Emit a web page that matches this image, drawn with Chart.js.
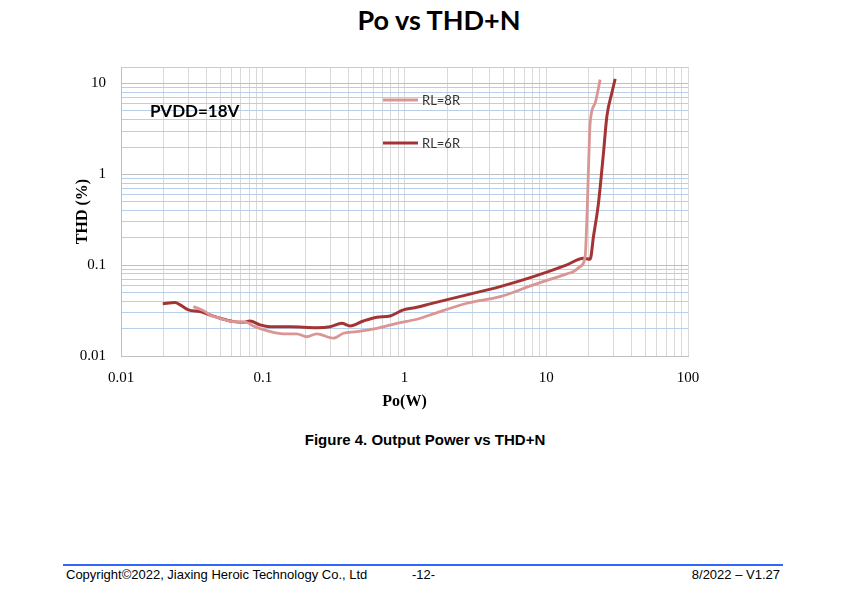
<!DOCTYPE html>
<html>
<head>
<meta charset="utf-8">
<script src="https://cdn.jsdelivr.net/npm/chart.js@4.4.1/dist/chart.umd.min.js"></script>
<style>
    body { margin: 0; background: #fff; width: 850px; height: 589px; position: relative; overflow: hidden; }
    #chart-box { position: absolute; left: 0; top: 0; width: 850px; height: 420px; }
    .txt { position: absolute; white-space: nowrap; color: #000; }
    #chart-title { left: 439px; top: 4px; transform: translateX(-50%); font: bold 27px Lato, sans-serif; line-height: 32px; }
    #caption { left: 425px; top: 431px; transform: translateX(-50%); font: bold 15px "Liberation Sans", Arial, sans-serif; line-height: 18px; }
    #footer-line { position: absolute; left: 63px; top: 564px; width: 720px; height: 2px; background: #3366ff; }
    .foot { top: 567px; font: 13px "Liberation Sans", Arial, sans-serif; line-height: 16px; }
</style>
</head>
<body>
<div id="chart-title" class="txt">Po vs THD+N</div>
<div id="chart-box"><canvas id="thd-chart" width="850" height="420"></canvas></div>
<div id="caption" class="txt">Figure 4. Output Power vs THD+N</div>
<div id="footer-line"></div>
<div class="txt foot" style="left:66px;">Copyright©2022, Jiaxing Heroic Technology Co., Ltd</div>
<div class="txt foot" style="left:412px;">-12-</div>
<div class="txt foot" style="right:70px;">8/2022 – V1.27</div>

<script>
const xTickLabels = ['0.01', '0.1', '1', '10', '100'];
const yTickLabels = ['0.01', '0.1', '1', '10'];
const yTop = 15.2;

// RL=8R
const po8R = [0.0324, 0.0381, 0.0425, 0.0500, 0.0620, 0.0771, 0.0858, 0.1067, 0.1397, 0.1737,
    0.2044, 0.2405, 0.3150, 0.3705, 0.4607, 0.6374, 0.8825, 1.221, 1.516, 2.753,
    4.728, 8.122, 13.98, 15.56, 17.35, 18.81, 19.34, 19.85, 20.40, 22.14, 24.01];
const thd8R = [0.0350, 0.0316, 0.0283, 0.0260, 0.0239, 0.0235, 0.0214, 0.0190, 0.0175, 0.0175,
    0.0163, 0.0175, 0.0157, 0.0178, 0.0185, 0.0202, 0.0229, 0.0254, 0.0283, 0.0381,
    0.0450, 0.0606, 0.0802, 0.0850, 0.0965, 0.1244, 0.3158, 1.124, 3.678, 6.111, 11.04];

// RL=6R
const po6R = [0.0197, 0.0241, 0.0261, 0.0299, 0.0361, 0.0425, 0.0500, 0.0620, 0.0730, 0.0813,
    0.0957, 0.1126, 0.1559, 0.2405, 0.2985, 0.361, 0.4131, 0.5129, 0.6374, 0.7913,
    0.982, 1.221, 1.516, 2.753, 4.728, 8.122, 13.98, 18.30, 20.40, 21.54,
    23.36, 25.33, 26.77, 29.03, 30.63];
const thd6R = [0.0375, 0.0387, 0.0365, 0.0322, 0.0308, 0.0283, 0.0260, 0.0239, 0.0235, 0.0243,
    0.0220, 0.0210, 0.0210, 0.0205, 0.0210, 0.0229, 0.0214, 0.0243, 0.0267, 0.0276,
    0.0322, 0.0344, 0.0375, 0.0471, 0.0581, 0.0748, 0.1008, 0.1194, 0.1165, 0.2067,
    0.4827, 1.717, 4.348, 7.878, 11.24];

const color8R = '#d99694';
const color6R = '#a33434';

function toPoints(xs, ys) {
    return xs.map((x, i) => ({ x: x, y: ys[i] }));
}

// 1..9 per decade between the labelled powers of ten
function logGrid(labels) {
    const majors = labels.map(Number);
    const vals = [];
    for (let i = 0; i < majors.length - 1; i++) {
        for (let k = 1; k < 10; k++) vals.push(+(majors[i] * k).toPrecision(3));
    }
    vals.push(majors[majors.length - 1]);
    return vals;
}

function majorLabel(labels, value) {
    const hit = labels.find(l => Math.abs(Number(l) - value) < 1e-9);
    return hit || '';
}

const xGrid = logGrid(xTickLabels);
const yGrid = logGrid(yTickLabels).concat([yTop]);

const notesPlugin = {
    id: 'notes',
    afterDatasetsDraw(chart) {
        const ctx = chart.ctx;
        const a = chart.chartArea;
        ctx.save();
        ctx.font = 'bold 17px Lato, sans-serif';
        ctx.fillStyle = '#000';
        ctx.textBaseline = 'middle';
        ctx.fillText('PVDD=18V', a.left + 29, a.top + 45);

        const items = [
            { label: 'RL=8R', color: color8R, width: 3, dy: 33 },
            { label: 'RL=6R', color: color6R, width: 3, dy: 76 }
        ];
        ctx.font = '13px Lato, sans-serif';
        items.forEach(it => {
            const y = a.top + it.dy;
            ctx.strokeStyle = it.color;
            ctx.lineWidth = it.width;
            ctx.beginPath();
            ctx.moveTo(a.left + 262, y);
            ctx.lineTo(a.left + 297, y);
            ctx.stroke();
            ctx.fillStyle = '#333';
            ctx.fillText(it.label, a.left + 301, y + 1);
        });
        ctx.restore();
    }
};

const serif = 'Liberation Serif, Times New Roman, serif';

new Chart(document.getElementById('thd-chart'), {
    type: 'line',
    data: {
        datasets: [
            {
                label: 'RL=8R',
                data: toPoints(po8R, thd8R),
                borderColor: color8R,
                borderWidth: 2.8,
                pointRadius: 0,
                cubicInterpolationMode: 'monotone'
            },
            {
                label: 'RL=6R',
                data: toPoints(po6R, thd6R),
                borderColor: color6R,
                borderWidth: 3,
                pointRadius: 0,
                cubicInterpolationMode: 'monotone'
            }
        ]
    },
    options: {
        responsive: false,
        animation: false,
        layout: { padding: { left: 73, top: 67, right: 162, bottom: 9 } },
        plugins: {
            legend: { display: false },
            tooltip: { enabled: false }
        },
        scales: {
            x: {
                type: 'logarithmic',
                min: 0.01,
                max: 100,
                afterBuildTicks: axis => { axis.ticks = xGrid.map(v => ({ value: v })); },
                afterFit: axis => { axis.height = 55; },
                ticks: {
                    autoSkip: false,
                    maxRotation: 0,
                    padding: 13,
                    color: '#000',
                    font: { family: serif, size: 15 },
                    callback: v => majorLabel(xTickLabels, v)
                },
                grid: { color: '#d9d9d9', lineWidth: 1, drawTicks: false },
                border: { color: '#bfbfbf' },
                title: {
                    display: true,
                    text: 'Po(W)',
                    color: '#000',
                    padding: 0,
                    font: { family: serif, size: 16, weight: 'bold' }
                }
            },
            y: {
                type: 'logarithmic',
                min: 0.01,
                max: yTop,
                afterBuildTicks: axis => { axis.ticks = yGrid.map(v => ({ value: v })); },
                afterFit: axis => { axis.width = 48; },
                ticks: {
                    autoSkip: false,
                    padding: 15,
                    color: '#000',
                    font: { family: serif, size: 15 },
                    callback: v => majorLabel(yTickLabels, v)
                },
                grid: {
                    drawTicks: false,
                    lineWidth: 1,
                    color: c => majorLabel(yTickLabels, c.tick.value) ? '#bfbfbf' : '#b8cfea'
                },
                border: { color: '#bfbfbf' },
                title: {
                    display: true,
                    text: 'THD (%)',
                    color: '#000',
                    padding: 0,
                    font: { family: serif, size: 16, weight: 'bold' }
                }
            }
        }
    },
    plugins: [notesPlugin]
});
</script>
</body>
</html>
